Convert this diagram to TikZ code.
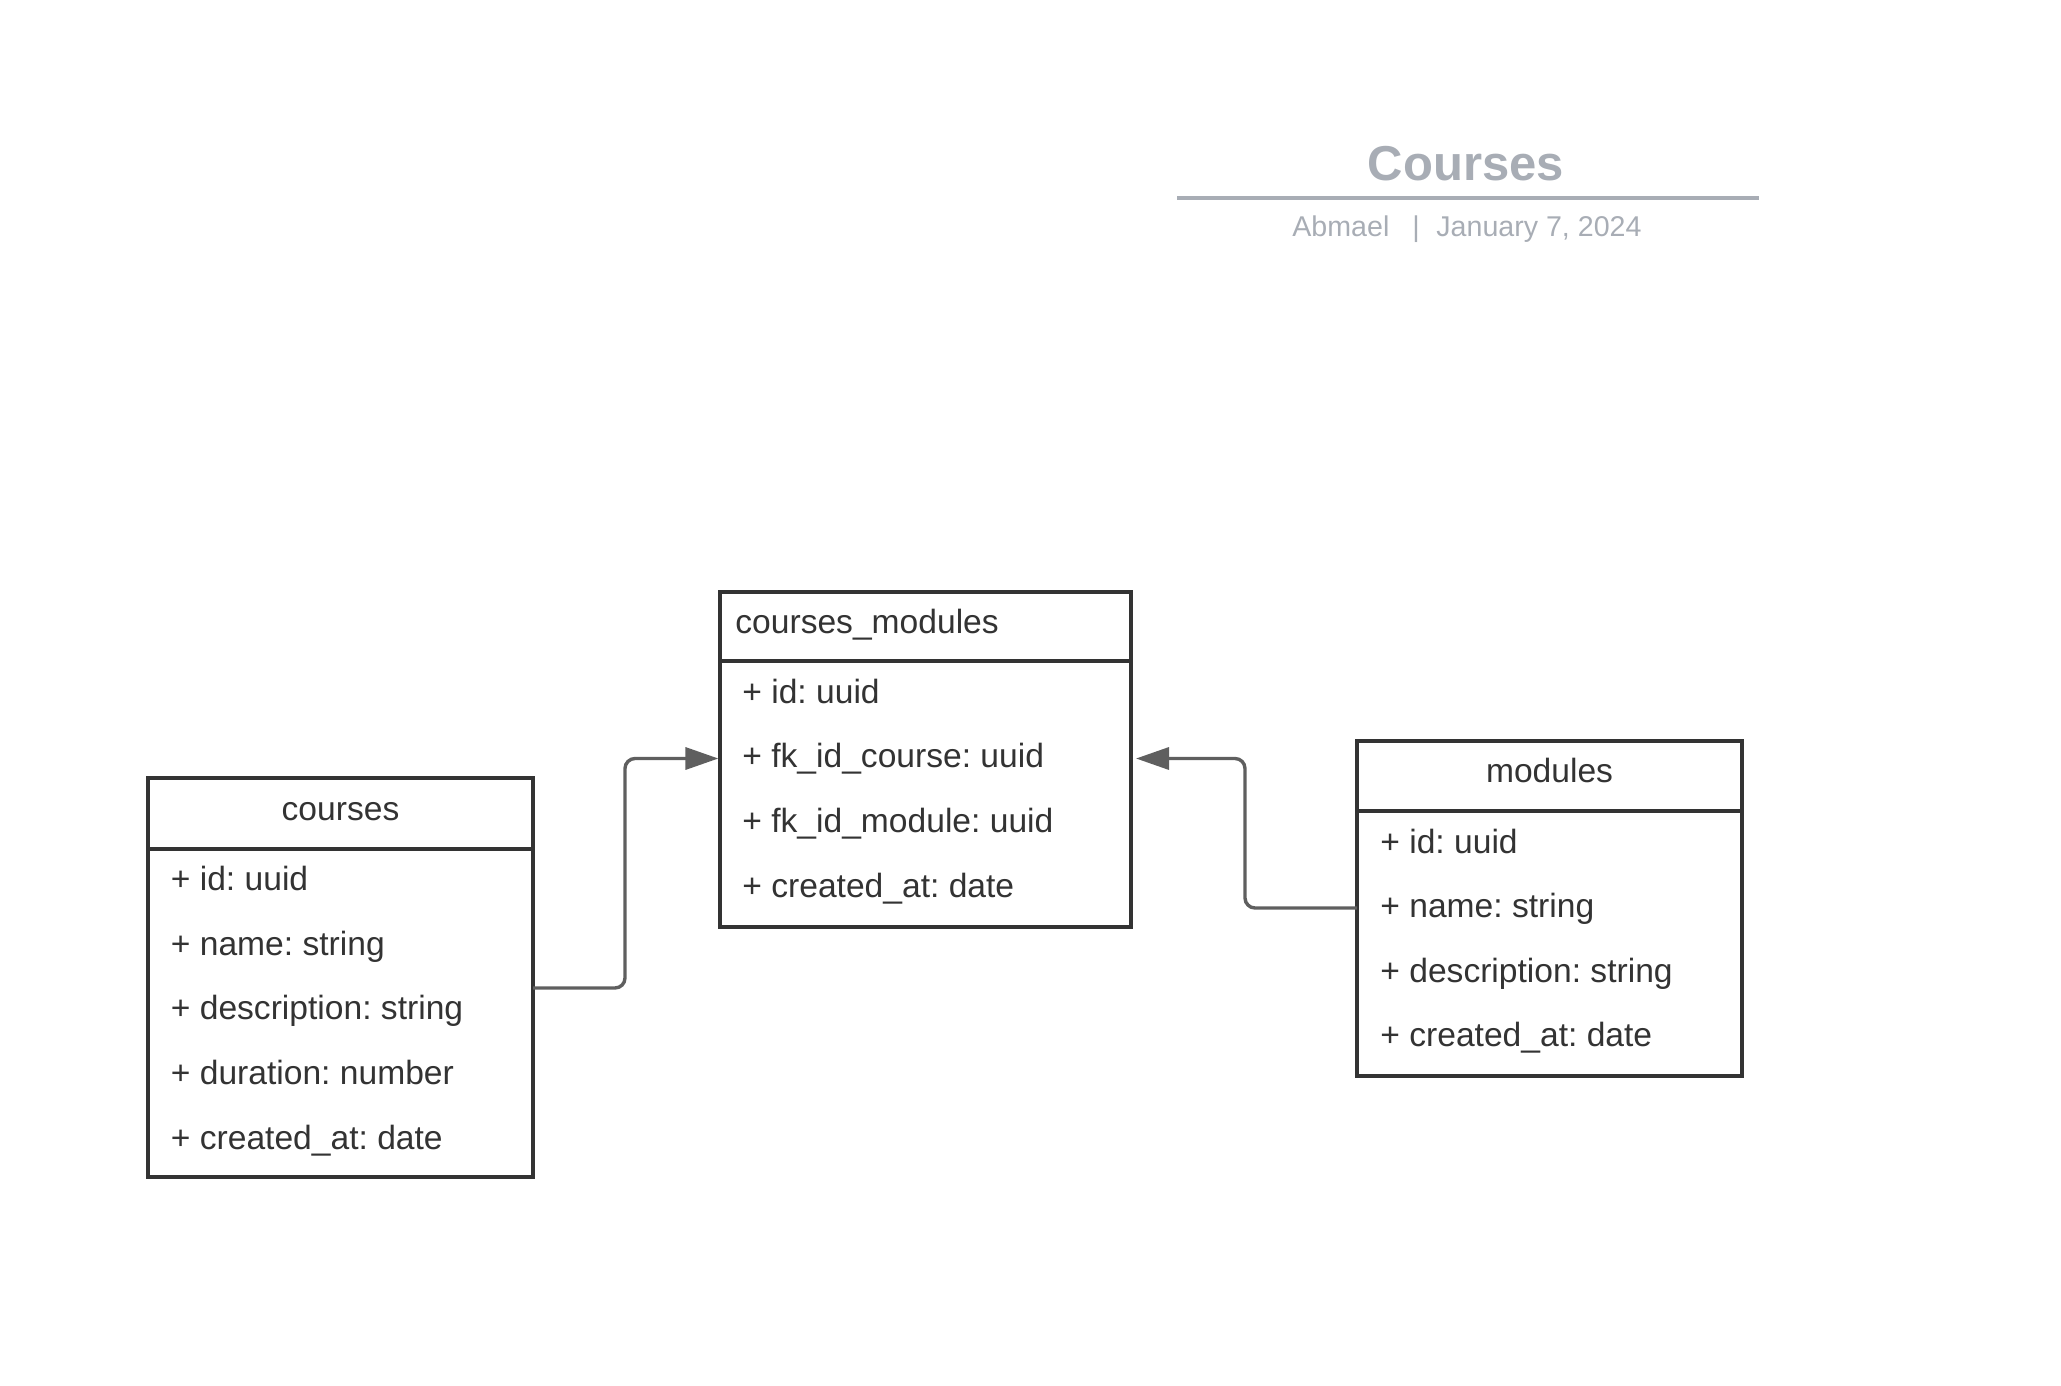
\documentclass[tikz,border=0pt]{standalone}
\usepackage{fontspec}
\setmainfont{Liberation Sans}
\usetikzlibrary{arrows.meta}
\definecolor{ink}{HTML}{333333}
\definecolor{conn}{HTML}{5F5F5F}
\definecolor{titlegray}{HTML}{A8ADB5}
\frenchspacing
\begin{document}
\frenchspacing
\begin{tikzpicture}[x=0.5pt,y=-0.5pt,
  box/.style={draw=ink, line width=1.75pt, rectangle, inner sep=0pt, outer sep=0pt, anchor=north west},
  sepline/.style={draw=ink, line width=1.75pt},
  field/.style={anchor=base west, inner sep=0pt, text=ink, font=\frenchspacing\fontsize{16.8}{20}\selectfont},
  headc/.style={anchor=base, inner sep=0pt, text=ink, font=\fontsize{16.8}{20}\selectfont},
  link/.style={draw=conn, line width=1.7pt, rounded corners=5pt, -{Triangle[length=16.5pt,width=11pt]}},
  subt/.style={inner sep=0pt, text=titlegray, font=\fontsize{14.3}{17}\selectfont},
]
\useasboundingbox (0,0) rectangle (2061,1386);

% title
\node[anchor=base, inner sep=0pt, text=titlegray, font=\bfseries\fontsize{24.5}{29}\selectfont] (title) at (1466,180) {Courses};
\draw[titlegray, line width=1.65pt] (1177,198) -- (1759,198);
\node[subt, anchor=base west] (author) at (1292,236) {Abmael};
\node[subt, anchor=base] (bar) at (1416,236) {|};
\node[subt, anchor=base west] (date) at (1436,236) {January 7, 2024};

% courses
\node[box, minimum width=192.5pt, minimum height=199.5pt] (courses) at (148,778) {};
\path (0,849) coordinate (ch);
\draw[sepline] (courses.west |- ch) -- (courses.east |- ch);
\node[headc] (coursesT) at (340.5,820) {courses};
\node[field] (c1) at (170.5,890) {+ id: uuid};
\node[field] (c2) at (170.5,955) {+ name: string};
\node[field] (c3) at (170.5,1019.5) {+ description: string};
\node[field] (c4) at (170.5,1084) {+ duration: number};
\node[field] (c5) at (170.5,1149) {+ created\_at: date};

% courses_modules
\node[box, minimum width=205.5pt, minimum height=167.5pt] (cm) at (720,592) {};
\path (0,661) coordinate (cmh);
\draw[sepline] (cm.west |- cmh) -- (cm.east |- cmh);
\node[field] (cmT) at (735,633) {courses\_modules};
\node[field] (cm1) at (742,703) {+ id: uuid};
\node[field] (cm2) at (742,767) {+ fk\_id\_course: uuid};
\node[field] (cm3) at (742,832) {+ fk\_id\_module: uuid};
\node[field] (cm4) at (742,897) {+ created\_at: date};

% modules
\node[box, minimum width=192.5pt, minimum height=167.5pt] (modules) at (1357,741) {};
\path (0,811) coordinate (mh);
\draw[sepline] (modules.west |- mh) -- (modules.east |- mh);
\node[headc] (modulesT) at (1549.5,782) {modules};
\node[field] (m1) at (1380,853) {+ id: uuid};
\node[field] (m2) at (1380,917) {+ name: string};
\node[field] (m3) at (1380,982) {+ description: string};
\node[field] (m4) at (1380,1046) {+ created\_at: date};

% connectors
\path (0,988) coordinate (y1);
\path (0,758.5) coordinate (yt);
\path (0,908) coordinate (y2);
\path (625,0) coordinate (x1);
\path (1245,0) coordinate (x2);
\draw[link, shorten >=0.8pt] (courses.east |- y1) -| (x1 |- yt) -- (cm.west |- yt);
\draw[link, shorten >=2.5pt] (modules.west |- y2) -| (x2 |- yt) -- (cm.east |- yt);
\end{tikzpicture}
\end{document}
